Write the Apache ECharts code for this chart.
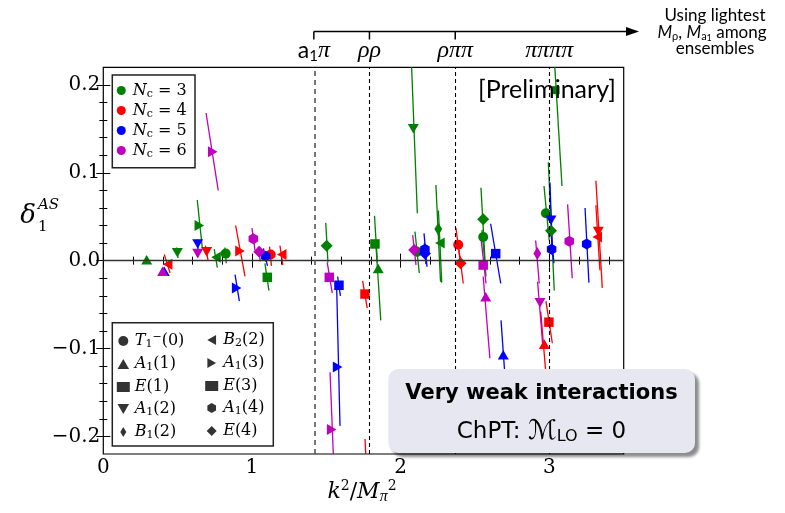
<!DOCTYPE html>
<html><head><meta charset="utf-8">
<script src="https://cdn.jsdelivr.net/npm/echarts@6/dist/echarts.min.js"></script>
<style>html,body{margin:0;padding:0;background:#fff}#c{width:785px;height:513px}</style>
</head><body><div id="c"></div>
<script>
// ---------------- data ----------------
// each row: [irrep, x, y, x at upper end of error bar, upper y, x at lower end, lower y]
const nc3 = [
  ['A1(1)', 0.292, 0.001, 0.290, 0.005, 0.294, -0.003],
  ['A1(2)', 0.498, 0.009, 0.493, 0.015, 0.503, 0.003],
  ['A1(3)', 0.646, 0.040, 0.632, 0.069, 0.666, 0.014],
  ['B2(2)', 0.758, 0.004, 0.746, 0.013, 0.767, -0.008],
  ['T1(0)', 0.823, 0.008, 0.818, 0.015, 0.827, -0.003],
  ['E(1)', 1.103, -0.019, 1.087, -0.003, 1.114, -0.034],
  ['E(4)', 1.502, 0.017, 1.496, 0.043, 1.511, -0.002],
  ['E(1)', 1.827, 0.019, 1.824, 0.051, 1.843, -0.002],
  ['A1(1)', 1.849, -0.009, 1.832, 0.023, 1.866, -0.068],
  ['A1(2)', 2.085, 0.150, 2.069, 0.240, 2.112, 0.054],
  ['A1(4)', 2.113, 0.010, 2.096, 0.033, 2.125, -0.014],
  ['B1(2)', 2.253, 0.036, 2.237, 0.086, 2.268, -0.024],
  ['B2(2)', 2.264, 0.020, 2.254, 0.057, 2.276, -0.025],
  ['E(4)', 2.555, 0.047, 2.540, 0.083, 2.567, 0.001],
  ['T1(0)', 2.555, 0.027, 2.547, 0.035, 2.574, -0.018],
  ['T1(0)', 2.977, 0.054, 2.964, 0.085, 2.999, 0.023],
  ['E(4)', 3.011, 0.034, 2.993, 0.112, 3.033, -0.034],
  ['E(3)', 3.042, 0.194, 3.026, 0.250, 3.085, 0.085]
];
const nc4 = [
  ['B2(2)', 0.433, -0.004, 0.410, 0.007, 0.449, -0.014],
  ['A1(2)', 0.695, 0.010, 0.687, 0.017, 0.704, 0.001],
  ['A1(3)', 0.919, 0.011, 0.890, 0.040, 0.953, -0.018],
  ['T1(0)', 1.126, 0.007, 1.118, 0.016, 1.131, -0.006],
  ['B2(2)', 1.200, 0.007, 1.188, 0.017, 1.208, -0.005],
  ['E(1)', 1.760, -0.038, 1.744, -0.023, 1.775, -0.054],
  ['A1(1)', 1.773, -0.248, 1.760, -0.203, 1.787, -0.294],
  ['T1(0)', 2.387, 0.018, 2.372, 0.037, 2.399, 0.001],
  ['E(4)', 2.403, -0.003, 2.392, 0.012, 2.421, -0.026],
  ['E(1)', 2.997, -0.070, 2.977, -0.046, 3.020, -0.094],
  ['A1(1)', 2.966, -0.095, 2.942, -0.058, 2.991, -0.158],
  ['A1(2)', 3.329, 0.033, 3.313, 0.091, 3.356, -0.031],
  ['B2(2)', 3.322, 0.027, 3.313, 0.063, 3.340, -0.011]
];
const nc5 = [
  ['A1(1)', 0.410, -0.012, 0.408, -0.008, 0.412, -0.016],
  ['A1(2)', 0.635, 0.019, 0.633, 0.024, 0.637, 0.013],
  ['A1(3)', 0.897, -0.031, 0.886, -0.016, 0.915, -0.046],
  ['A1(4)', 1.092, 0.005, 1.077, 0.014, 1.104, -0.006],
  ['E(1)', 1.585, -0.028, 1.576, -0.018, 1.595, -0.040],
  ['A1(3)', 1.576, -0.121, 1.570, -0.033, 1.592, -0.188],
  ['A1(4)', 2.163, 0.013, 2.157, 0.031, 2.177, -0.007],
  ['E(4)', 2.163, 0.008, 2.160, 0.020, 2.170, -0.004],
  ['E(1)', 2.639, 0.008, 2.605, 0.042, 2.673, -0.026],
  ['A1(1)', 2.690, -0.107, 2.675, -0.068, 2.705, -0.140],
  ['A1(2)', 3.011, 0.046, 3.004, 0.089, 3.022, 0.005],
  ['A1(4)', 3.015, 0.013, 3.011, 0.031, 3.031, -0.003],
  ['A1(4)', 3.251, 0.019, 3.240, 0.060, 3.266, -0.025]
];
const nc6 = [
  ['A1(1)', 0.399, -0.012, 0.397, -0.008, 0.401, -0.016],
  ['A1(2)', 0.635, 0.008, 0.633, 0.012, 0.637, 0.004],
  ['A1(3)', 0.736, 0.124, 0.691, 0.168, 0.773, 0.080],
  ['A1(4)', 1.009, 0.025, 1.000, 0.037, 1.020, 0.012],
  ['E(4)', 1.049, 0.010, 1.042, 0.016, 1.056, -0.001],
  ['E(1)', 1.520, -0.019, 1.506, -0.002, 1.540, -0.037],
  ['A1(3)', 1.536, -0.192, 1.525, -0.127, 1.551, -0.237],
  ['E(4)', 2.091, 0.012, 2.081, 0.029, 2.103, -0.005],
  ['E(1)', 2.555, -0.005, 2.538, 0.029, 2.574, -0.026],
  ['A1(1)', 2.572, -0.041, 2.555, -0.018, 2.600, -0.111],
  ['B1(2)', 2.919, 0.008, 2.908, 0.023, 2.932, -0.026],
  ['A1(2)', 2.937, -0.048, 2.921, -0.024, 2.955, -0.095],
  ['A1(4)', 3.134, 0.022, 3.123, 0.064, 3.154, -0.020]
];
const ncValues = ['3', '4', '5', '6'];
const irreps = ['T1(0)', 'A1(1)', 'E(1)', 'A1(2)', 'B1(2)', 'B2(2)', 'A1(3)', 'E(3)', 'A1(4)', 'E(4)'];
const xTicks = [0, 1, 2, 3];
const xMinorTicks = [0.2, 0.4, 0.6, 0.8, 1.2, 1.4, 1.6, 1.8, 2.2, 2.4, 2.6, 2.8, 3.2, 3.4];
const yTicks = [-0.2, -0.1, 0, 0.1, 0.2];
const yMinorTicks = [-0.18, -0.16, -0.14, -0.12, -0.08, -0.06, -0.04, -0.02, 0.02, 0.04, 0.06, 0.08, 0.12, 0.14, 0.16, 0.18];
const thresholdX = [1.416, 1.79, 2.367, 2.999];
const thresholdLabels = ['{a|a}{as|1}{p|π}', '{p|ρρ}', '{p|ρππ}', '{p|ππππ}'];

// ---------------- styling ----------------
const SERIF = 'DejaVu Serif';
const SANS = 'Lato';
const ncColors = ['#008000', '#ff0000', '#0000ff', '#bf00bf'];
const P = {
  up: 'path://M0,-0.87L1,0.87L-1,0.87Z',
  down: 'path://M-1,-0.87L1,-0.87L0,0.87Z',
  left: 'path://M-0.87,0L0.87,-1L0.87,1Z',
  right: 'path://M0.87,0L-0.87,-1L-0.87,1Z',
  hex: 'path://M0,-1L0.866,-0.5L0.866,0.5L0,1L-0.866,0.5L-0.866,-0.5Z',
  thin: 'path://M0,-1L0.6,0L0,1L-0.6,0Z',
  dia: 'path://M0,-1L1,0L0,1L-1,0Z'
};
const irrepStyle = {
  'T1(0)': ['circle', 10], 'A1(1)': [P.up, 11], 'E(1)': ['rect', 9.5], 'A1(2)': [P.down, 11],
  'B1(2)': [P.thin, 13], 'B2(2)': [P.left, 11], 'A1(3)': [P.right, 11], 'E(3)': ['rect', 8],
  'A1(4)': [P.hex, 11], 'E(4)': [P.dia, 12]
};
const irrepTex = {
  'T1(0)': '{i|T}{sub|1}{sup|−}(0)', 'A1(1)': '{i|A}{sub|1}(1)', 'E(1)': '{i|E}(1)',
  'A1(2)': '{i|A}{sub|1}(2)', 'B1(2)': '{i|B}{sub|1}(2)', 'B2(2)': '{i|B}{sub|2}(2)',
  'A1(3)': '{i|A}{sub|1}(3)', 'E(3)': '{i|E}(3)', 'A1(4)': '{i|A}{sub|1}(4)', 'E(4)': '{i|E}(4)'
};
const mathRich = {
  i: { fontFamily: SERIF, fontStyle: 'italic', fontSize: 16, color: '#000' },
  sub: { fontFamily: SERIF, fontSize: 11, padding: [7, 0, 0, 0], color: '#000' },
  sup: { fontFamily: SERIF, fontSize: 11, padding: [0, 0, 7, 0], color: '#000' }
};

const chart = echarts.init(document.getElementById('c'), null, { renderer: 'canvas' });
const GRID = { left: 103.3, top: 67.3, width: 520.4, height: 386.7 };

function xAx(pos, ticks, len, labels) {
  return {
    type: 'value', min: 0, max: 3.5, position: pos,
    axisLine: { show: false }, splitLine: { show: false },
    axisTick: { show: true, inside: true, length: len, customValues: ticks, lineStyle: { color: '#000', width: 1 } },
    axisLabel: labels ? { show: true, customValues: ticks, margin: 4, fontFamily: SERIF, fontSize: 20, color: '#000' } : { show: false }
  };
}
function yAx(pos, ticks, len, labels) {
  return {
    type: 'value', min: -0.22, max: 0.22, position: pos,
    axisLine: { show: false }, splitLine: { show: false },
    axisTick: { show: true, inside: true, length: len, customValues: ticks, lineStyle: { color: '#000', width: 1 } },
    axisLabel: labels ? {
      show: true, customValues: ticks, margin: 3, fontFamily: SERIF, fontSize: 20, color: '#000',
      formatter: v => (v < 0 ? '−' : '') + Math.abs(v).toFixed(1)
    } : { show: false }
  };
}

const series = [];
series.push({
  type: 'scatter', data: [], silent: true, z: 1,
  markLine: {
    silent: true, symbol: 'none', animation: false, label: { show: false },
    data: [{ yAxis: 0, lineStyle: { color: '#333', width: 1.3, type: 'solid' } }].concat(
      thresholdX.map((v, i) => ({ xAxis: v, lineStyle: { color: i === 0 ? '#555' : '#000', width: i === 0 ? 1.6 : 1.1, type: i === 0 ? [5, 4] : [4, 3] } }))
    )
  }
});
[nc3, nc4, nc5, nc6].forEach((rows, k) => {
  series.push({
    type: 'custom', name: 'bars' + k, clip: true, z: 2,
    encode: { x: [0, 2], y: [1, 3] },
    data: rows.map(r => [r[3], r[4], r[5], r[6]]),
    renderItem: (params, api) => {
      const a = api.coord([api.value(0), api.value(1)]);
      const b = api.coord([api.value(2), api.value(3)]);
      return { type: 'line', shape: { x1: a[0], y1: a[1], x2: b[0], y2: b[1] }, style: { stroke: ncColors[k], lineWidth: 1.3 } };
    }
  });
});
[nc3, nc4, nc5, nc6].forEach((rows, k) => {
  series.push({
    type: 'scatter', name: 'Nc' + ncValues[k], z: 3, clip: true, symbolKeepAspect: true,
    itemStyle: { color: ncColors[k], opacity: 1 },
    data: rows.map(r => ({ value: [r[1], r[2]], symbol: irrepStyle[r[0]][0], symbolSize: irrepStyle[r[0]][1] }))
  });
});
irreps.forEach(n => {
  series.push({ type: 'scatter', name: n, data: [], symbol: irrepStyle[n][0], symbolKeepAspect: true, itemStyle: { color: '#000' } });
});

function irrepLegend(names, left) {
  return {
    orient: 'vertical', left: left, top: 332, itemWidth: 13, itemHeight: 10, itemGap: 6, padding: 0,
    selectedMode: false, symbolKeepAspect: true,
    data: names.map(n => ({ name: n, icon: irrepStyle[n][0] })),
    formatter: n => irrepTex[n],
    textStyle: { fontFamily: SERIF, fontSize: 16, color: '#000', rich: mathRich }
  };
}

const option = {
  animation: false,
  grid: Object.assign({ show: true, borderColor: '#000', borderWidth: 1.2, backgroundColor: 'transparent' }, GRID),
  xAxis: [xAx('bottom', xTicks, 7, true), xAx('bottom', xMinorTicks, 4, false), xAx('top', xTicks, 7, false), xAx('top', xMinorTicks, 4, false)],
  yAxis: [yAx('left', yTicks, 7, true), yAx('left', yMinorTicks, 4, false), yAx('right', yTicks, 7, false), yAx('right', yMinorTicks, 4, false)],
  legend: [
    {
      orient: 'vertical', left: 116.8, top: 82.5, itemWidth: 13, itemHeight: 9, itemGap: 3, padding: 0,
      selectedMode: false, icon: 'circle',
      data: ncValues.map(v => 'Nc' + v),
      formatter: n => '{i|N}{sub|c} = ' + n.slice(2),
      textStyle: { fontFamily: SERIF, fontSize: 16, color: '#000', rich: mathRich }
    },
    irrepLegend(irreps.slice(0, 5), 116.8),
    irrepLegend(irreps.slice(5), 205.2)
  ],
  series: series
};
chart.setOption(option);

const px = thresholdX.map(v => chart.convertToPixel({ xAxisIndex: 0 }, v));
const BR = 31.5;
const topRich = {
  a: { fontFamily: SANS, fontSize: 23, color: '#000' },
  as: { fontFamily: SANS, fontSize: 15, padding: [10, 0, 0, 0], color: '#000' },
  p: { fontFamily: 'Liberation Serif', fontStyle: 'italic', fontSize: 24, color: '#000' }
};
const graphic = [
  { type: 'rect', z: 50, shape: { x: 112.3, y: 75, width: 82.7, height: 92.7 }, style: { fill: 'none', stroke: '#222', lineWidth: 1.5 } },
  { type: 'rect', z: 50, shape: { x: 112.3, y: 322.7, width: 161, height: 123.3 }, style: { fill: 'none', stroke: '#222', lineWidth: 1.5 } },
  { type: 'text', z: 50, x: 616, y: 90, style: { text: '[Preliminary]', fontFamily: SANS, fontSize: 25, fill: '#000', align: 'right', verticalAlign: 'middle' } },
  { type: 'line', z: 50, shape: { x1: px[0], y1: BR, x2: 630, y2: BR }, style: { stroke: '#000', lineWidth: 1.5 } },
  { type: 'polygon', z: 50, shape: { points: [[626, BR - 4.5], [639, BR], [626, BR + 4.5]] }, style: { fill: '#000' } },
  { type: 'text', z: 50, x: 715, y: 16, style: { text: 'Using lightest', fontFamily: SANS, fontSize: 17, fill: '#000', align: 'center', verticalAlign: 'middle' } },
  { type: 'text', z: 50, x: 712, y: 33, style: { text: '{i|M}{s|ρ}, {i|M}{s|a}{ss|1} among', fontFamily: SANS, fontSize: 17, fill: '#000', align: 'center', verticalAlign: 'middle',
      rich: { i: { fontFamily: SANS, fontStyle: 'italic', fontSize: 17 }, s: { fontFamily: SANS, fontSize: 11, padding: [7, 0, 0, 0] }, ss: { fontFamily: SANS, fontSize: 9, padding: [11, 0, 0, 0] } } } },
  { type: 'text', z: 50, x: 715, y: 49, style: { text: 'ensembles', fontFamily: SANS, fontSize: 17, fill: '#000', align: 'center', verticalAlign: 'middle' } },
  // y label
  { type: 'text', z: 50, x: 28, y: 216, style: { text: 'δ', fontFamily: SERIF, fontStyle: 'italic', fontSize: 26, fill: '#000', align: 'center', verticalAlign: 'middle' } },
  { type: 'text', z: 50, x: 38, y: 205, style: { text: 'AS', fontFamily: SERIF, fontStyle: 'italic', fontSize: 15, fill: '#000', align: 'left', verticalAlign: 'middle' } },
  { type: 'text', z: 50, x: 38, y: 227, style: { text: '1', fontFamily: SERIF, fontSize: 15, fill: '#000', align: 'left', verticalAlign: 'middle' } },
  // x label
  { type: 'text', z: 50, x: 362, y: 492, style: { text: '{i|k}{sup|2}/{i|M}{sub|π}{sup2|2}', fontFamily: SERIF, fontSize: 22, fill: '#000', align: 'center', verticalAlign: 'middle',
      rich: { i: { fontFamily: SERIF, fontStyle: 'italic', fontSize: 22 }, sup: { fontFamily: SERIF, fontSize: 14, padding: [0, 0, 12, 0] }, sub: { fontFamily: 'Liberation Serif', fontStyle: 'italic', fontSize: 16, padding: [10, 0, 0, 0] }, sup2: { fontFamily: SERIF, fontSize: 14, padding: [0, 0, 12, 0] } } } },
  // interaction box
  { type: 'rect', z: 60, shape: { x: 388.3, y: 369, width: 306.7, height: 84, r: 10 }, style: { fill: '#e7e7f1', shadowBlur: 3, shadowOffsetX: 4, shadowOffsetY: 4, shadowColor: 'rgba(0,0,0,0.45)' } },
  { type: 'text', z: 61, x: 541.5, y: 394, style: { text: 'Very weak interactions', fontFamily: 'DejaVu Sans', fontWeight: 'bold', fontSize: 21, fill: '#000', align: 'center', verticalAlign: 'middle' } },
  { type: 'text', z: 61, x: 541.5, y: 432, style: { text: 'ChPT: {m|ℳ}{s|LO} = 0', fontFamily: 'DejaVu Sans', fontSize: 23, fill: '#000', align: 'center', verticalAlign: 'middle',
      rich: { m: { fontFamily: 'DejaVu Sans', fontSize: 27 }, s: { fontFamily: 'DejaVu Sans', fontSize: 16, padding: [10, 0, 0, 0] } } } }
];
px.forEach((x, i) => {
  if (i < 3) graphic.push({ type: 'line', z: 50, shape: { x1: x, y1: BR, x2: x, y2: BR + 8 }, style: { stroke: '#000', lineWidth: 1.5 } });
  graphic.push({ type: 'text', z: 50, x: x, y: 51, style: { text: thresholdLabels[i], fill: '#000', align: 'center', verticalAlign: 'middle', rich: topRich } });
});
chart.setOption({ graphic: graphic });
</script>
</body></html>
